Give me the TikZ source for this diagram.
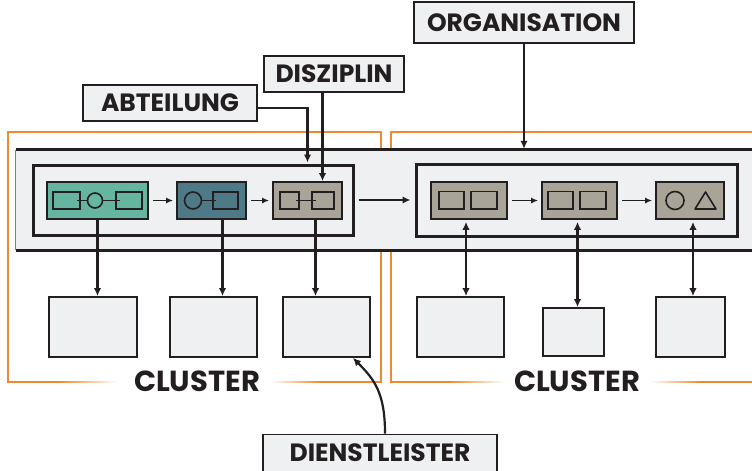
\documentclass[tikz,border=0pt]{standalone}
\usepackage{fontspec}
\setmainfont{Poppins}
\usetikzlibrary{calc,positioning,arrows.meta,shapes.geometric}
\definecolor{pagegray}{HTML}{EFF0F2}
\definecolor{tealgreen}{HTML}{66B5A1}
\definecolor{petrol}{HTML}{4D7A86}
\definecolor{stone}{HTML}{A8A498}
\definecolor{clorange}{HTML}{F08A32}
\definecolor{ink}{HTML}{231F20}
\tikzstyle{tagbox} = [draw=ink, fill=pagegray, line width=1.8pt, rectangle,
    text=ink, font=\fontsize{25}{27}\selectfont\bfseries]
\tikzstyle{proc} = [draw=ink, line width=1.8pt, rectangle, minimum height=37pt]
\tikzstyle{sbox} = [draw=ink, fill=pagegray, line width=1.8pt, rectangle]
\tikzstyle{frbox} = [draw=ink, fill=pagegray, line width=3pt, rectangle]
\tikzstyle{icon} = [draw=ink, line width=1.6pt]
\tikzstyle{heavy} = [draw=ink, line width=3pt]
\tikzstyle{arr} = [draw=ink, line width=2.2pt, ->]
\tikzstyle{darr} = [draw=ink, line width=2.2pt, <->]
\tikzstyle{small} = [draw=ink, line width=1.6pt, -{Latex[length=7pt,width=6pt]},
    shorten <=4pt, shorten >=3pt]
\tikzstyle{fence} = [draw=clorange, line width=1.4pt]
\tikzstyle{cltext} = [text=ink, font=\fontsize{29}{31}\selectfont\bfseries]

\begin{document}
\begin{tikzpicture}[x=1pt,y=-1pt,>={Latex[length=8pt,width=7.5pt]},
    every node/.style={inner sep=0pt, text centered}]
\useasboundingbox (0,0) rectangle (752,471);
\clip (0,0) rectangle (752,471);

% cluster frames
\draw[fence] (60,382) -- (8,382) -- (8,132) -- (381,132) -- (381,382) -- (320,382);
\shade[left color=clorange, right color=white] (60,381.3) rectangle (118,382.7);
\shade[left color=white, right color=clorange] (270,381.3) rectangle (320,382.7);
\draw[fence] (450,382) -- (391,382) -- (391,132) -- (760,132);
\shade[left color=clorange, right color=white] (450,381.3) rectangle (505,382.7);
\shade[left color=white, right color=clorange] (650,381.3) rectangle (700,382.7);
\draw[fence] (700,382) -- (760,382);
\node (clA) [cltext] at (197,381) {CLUSTER};
\node (clB) [cltext] at (577,381) {CLUSTER};

% organisation band
\node (band) [rectangle, fill=pagegray, minimum width=744pt, minimum height=100pt] at (388,200) {};
\draw[heavy] (band.north west) -- (band.north east);
\draw[heavy] (band.south west) -- (band.south east);
\draw[draw=gray, line width=0.8pt] (band.north west) -- (band.south west);

\node (frA) [frbox, minimum width=320pt, minimum height=70pt] at (193,200) {};
\node (frB) [frbox, minimum width=321pt, minimum height=72pt] at (576.5,200) {};

% process boxes
\node (pA) [proc, fill=tealgreen, minimum width=101pt] at (97.5,200.5) {};
\node (pB) [proc, fill=petrol, minimum width=69pt] at (211.5,200.5) {};
\node (pC) [proc, fill=stone, minimum width=69pt] at (307.5,200.5) {};
\node (pD) [proc, fill=stone, minimum width=76pt] at (469,200.5) {};
\node (pE) [proc, fill=stone, minimum width=75pt] at (579.5,200.5) {};
\node (pF) [proc, fill=stone, minimum width=68pt] at (690,200.5) {};

% icons
\draw[icon] (53,192) rectangle (80,209);
\draw[icon] (95,200.5) circle (7.5);
\draw[icon] (116,192) rectangle (142,209);
\draw[icon] (77,200.5) -- (87.5,200.5);
\draw[icon] (102.5,200.5) -- (120,200.5);
\draw[icon] (193,200.5) circle (8.5);
\draw[icon] (213,192) rectangle (238,209);
\draw[icon] (201.5,200.5) -- (216,200.5);
\draw[icon] (280,192) rectangle (299,209);
\draw[icon] (312,192) rectangle (334,209);
\draw[icon] (296,200.5) -- (316,200.5);
\draw[icon] (439,191.5) rectangle (464,209);
\draw[icon] (471,191.5) rectangle (497,209);
\draw[icon] (548,191.5) rectangle (573,209);
\draw[icon] (580,191.5) rectangle (606,209);
\draw[icon] (675,200.5) circle (9);
\draw[icon, line join=round] (695,209) -- (716,209) -- (705.5,192) -- cycle;

\draw[small] (pA) -- (pB);
\draw[small] (pB) -- (pC);
\draw[small] (pD) -- (pE);
\draw[small] (pE) -- (pF);
\draw[arr, shorten <=4pt, shorten >=4pt] (frA) -- (frB);

% service boxes
\node (sA) [sbox, minimum width=88pt, minimum height=60pt] at (93,327) {};
\node (sB) [sbox, minimum width=87pt, minimum height=60pt] at (213.5,327) {};
\node (sC) [sbox, minimum width=87pt, minimum height=60pt] at (326.5,327) {};
\node (sD) [sbox, minimum width=87pt, minimum height=60pt] at (460.5,327) {};
\node (sE) [sbox, minimum width=61pt, minimum height=48pt] at (573.5,332) {};
\node (sF) [sbox, minimum width=69pt, minimum height=60pt] at (690.5,327) {};

\draw[arr] (pA.south) -- (pA.south |- sA.north);
\draw[arr] ([xshift=11pt]pB.south) -- ([xshift=11pt]pB.south |- sB.north);
\draw[arr] ([xshift=8pt]pC.south) -- ([xshift=8pt]pC.south |- sC.north);
\draw[darr, shorten <=2pt] ([xshift=-3pt]pD.south) -- ([xshift=-3pt]pD.south |- sD.north);
\draw[darr, shorten <=2pt] ([xshift=-2pt]pE.south) -- ([xshift=-2pt]pE.south |- sE.north);
\draw[darr, shorten <=2pt] ([xshift=3pt]pF.south) -- ([xshift=3pt]pF.south |- sF.north);

% labels
\node (org) [tagbox, minimum width=220pt, minimum height=41pt] at (524,22.5) {ORGANISATION};
\node (disz) [tagbox, minimum width=140pt, minimum height=36pt] at (334,74) {DISZIPLIN};
\node (abt) [tagbox, minimum width=174pt, minimum height=36pt] at (170,103) {ABTEILUNG};
\node (dienst) [tagbox, minimum width=234pt, minimum height=37pt] at (380,453) {DIENSTLEISTER};

\draw[arr, shorten >=1pt] (org.south) -- (org.south |- band.north);
\coordinate (dtip) at ([xshift=15pt]pC.north);
\draw[arr] (disz.south -| dtip) -- (dtip);
\draw[arr, shorten >=1pt] ([yshift=-5pt]abt.east) -| (frA.north -| pC.north);
\draw[arr] ([xshift=5pt]dienst.north) .. controls +(0,-40) and +(22,22) .. ([xshift=-18pt]sC.south east);

\end{tikzpicture}
\end{document}
